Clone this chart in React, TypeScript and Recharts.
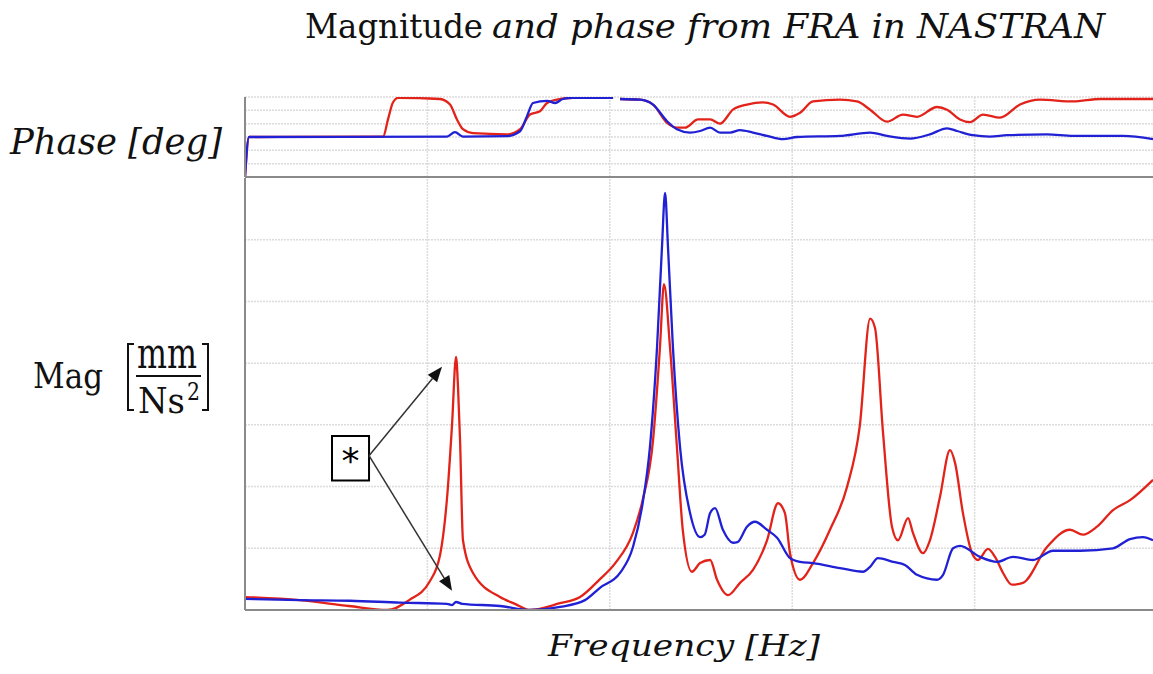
import React from 'react';
import { LineChart, Line, XAxis, YAxis, ReferenceArea, ReferenceLine } from 'recharts';

// ---- Magnitude (mm / N s^2) ----
const redMagFreq = [0, 0.3, 0.57, 0.78, 0.9, 1.01, 1.07, 1.11, 1.135, 1.157, 1.168, 1.179, 1.195, 1.25, 1.398, 1.48, 1.5625, 1.727, 1.837, 1.946, 2.03, 2.127, 2.18, 2.237, 2.275, 2.297, 2.33, 2.368, 2.4, 2.45, 2.495, 2.55, 2.588, 2.648, 2.714, 2.785, 2.862, 2.922, 2.96, 2.988, 3.043, 3.114, 3.207, 3.3, 3.37, 3.427, 3.454, 3.498, 3.547, 3.58, 3.635, 3.662, 3.717, 3.755, 3.81, 3.865, 3.893, 3.936, 3.986, 4.019, 4.073, 4.112, 4.156, 4.205, 4.265, 4.397, 4.523, 4.594, 4.671, 4.759, 4.852, 4.978];
const redMagVal = [0.21, 0.16, 0.065, 0.0, 0.16, 0.45, 0.9, 1.9, 3.0, 4.1, 3.6, 2.75, 1.13, 0.6, 0.21, 0.1, 0.0, 0.11, 0.21, 0.5, 0.76, 1.25, 1.78, 2.75, 4.26, 5.28, 4.26, 2.64, 1.3, 0.62, 0.76, 0.81, 0.49, 0.24, 0.44, 0.65, 1.13, 1.73, 1.57, 0.92, 0.49, 0.76, 1.3, 1.99, 2.97, 4.72, 4.57, 2.87, 1.35, 1.13, 1.49, 1.25, 0.92, 1.13, 1.83, 2.59, 2.38, 1.57, 0.92, 0.81, 0.99, 0.86, 0.6, 0.41, 0.44, 1.02, 1.3, 1.22, 1.35, 1.62, 1.78, 2.11];

const blueMagFreq = [0, 0.3, 0.576, 0.85, 1.107, 1.135, 1.157, 1.19, 1.398, 1.5625, 1.727, 1.864, 1.946, 2.056, 2.127, 2.18, 2.22, 2.259, 2.286, 2.303, 2.319, 2.346, 2.385, 2.44, 2.495, 2.52, 2.55, 2.577, 2.62, 2.675, 2.7, 2.752, 2.796, 2.862, 2.917, 2.988, 3.043, 3.114, 3.262, 3.388, 3.427, 3.47, 3.553, 3.618, 3.684, 3.794, 3.827, 3.882, 3.92, 4.03, 4.123, 4.21, 4.32, 4.43, 4.578, 4.759, 4.852, 4.923, 4.978];
const blueMagVal = [0.18, 0.16, 0.15, 0.12, 0.1, 0.08, 0.13, 0.1, 0.065, 0.0, 0.05, 0.16, 0.36, 0.6, 1.02, 1.73, 2.64, 4.26, 5.88, 6.76, 5.88, 4.26, 2.64, 1.57, 1.18, 1.22, 1.57, 1.65, 1.3, 1.09, 1.1, 1.35, 1.43, 1.3, 1.17, 0.84, 0.78, 0.76, 0.68, 0.62, 0.7, 0.84, 0.78, 0.73, 0.57, 0.49, 0.57, 1.0, 1.04, 0.86, 0.78, 0.86, 0.81, 0.96, 0.96, 1.0, 1.15, 1.18, 1.13];

// ---- Phase (deg) ----
const redPhaseFreq = [0, 0.022, 0.757, 0.784, 0.811, 0.839, 1.069, 1.124, 1.162, 1.195, 1.25, 1.436, 1.508, 1.5625, 1.617, 1.656, 1.71, 1.798, 2.018, 2.03, 2.056, 2.166, 2.237, 2.314, 2.368, 2.412, 2.484, 2.55, 2.604, 2.675, 2.752, 2.84, 2.895, 2.988, 3.043, 3.114, 3.262, 3.355, 3.427, 3.52, 3.607, 3.684, 3.794, 3.849, 3.92, 3.975, 4.046, 4.139, 4.249, 4.359, 4.54, 4.688, 4.978];
const redPhaseVal = [-180, 0, 2, 79, 155, 176, 171, 146, 79, 35, 17, 12, 35, 101, 116, 153, 168, 176, 176, null, 171, 168, 146, 64, 42, 42, 79, 79, 60, 123, 146, 156, 146, 91, 109, 160, 168, 160, 123, 69, 101, 91, 135, 123, 79, 67, 101, 87, 146, 168, 160, 171, 171];

const bluePhaseFreq = [0, 0.022, 1.107, 1.151, 1.195, 1.436, 1.508, 1.546, 1.579, 1.656, 1.7, 1.743, 1.798, 2.018, 2.03, 2.056, 2.166, 2.237, 2.314, 2.368, 2.44, 2.495, 2.55, 2.604, 2.659, 2.714, 2.785, 2.862, 2.95, 3.026, 3.262, 3.427, 3.52, 3.646, 3.755, 3.849, 3.904, 3.99, 4.084, 4.178, 4.397, 4.54, 4.814, 4.978];
const bluePhaseVal = [-180, 0, 2, 22, 2, 4, 26, 94, 153, 163, 153, 171, 176, 176, null, 171, 168, 146, 71, 35, 20, 27, 42, 20, 20, 31, 20, 5, -10, 0, 5, 20, 5, -7, 12, 39, 27, 8, 2, 8, 12, 5, 5, -10];

// ---- axes ----
const freqTicks = [0, 0.5, 1, 1.5, 2, 2.5, 3, 3.5, 4, 4.5];
const freqGrid = [1, 2, 3, 4];
const magTicks = [0, 0.5, 1, 1.5, 2, 2.5, 3, 3.5, 4, 4.5, 5, 5.5, 6, 6.5, 7];
const magGrid = [1, 2, 3, 4, 5, 6];
const phaseTicks = [-180, -150, -120, -90, -60, -30, 0, 30, 60, 90, 120, 150, 180];
const phaseGrid = [-120, -60, 0, 60, 120, 180];

const zip = (xs: number[], ys: (number | null)[]) => xs.map((f, i) => ({ f, v: ys[i] }));
const redMag = zip(redMagFreq, redMagVal);
const blueMag = zip(blueMagFreq, blueMagVal);
const redPhase = zip(redPhaseFreq, redPhaseVal);
const bluePhase = zip(bluePhaseFreq, bluePhaseVal);

const RED = '#e2231a';
const BLUE = '#2020d4';
const AXIS = '#8a8a8a';
const GRID = '#dcdcdc';
const X_MAX = 4.978;

const Arrow = (props: any) => {
  const { x1, y1, x2, y2 } = props;
  const ang = Math.atan2(y2 - y1, x2 - x1);
  const L = 15;
  const W = 6;
  const bx = x2 - L * Math.cos(ang);
  const by = y2 - L * Math.sin(ang);
  const px = W * Math.sin(ang);
  const py = W * Math.cos(ang);
  return (
    <g>
      <line x1={x1} y1={y1} x2={bx} y2={by} stroke="#333" strokeWidth={1.5} />
      <polygon points={`${x2},${y2} ${bx + px},${by - py} ${bx - px},${by + py}`} fill="#111" />
    </g>
  );
};

const GridLine = (props: any) => {
  const { x1, y1, x2, y2 } = props;
  return <line x1={x1} y1={y1} x2={x2} y2={y2} stroke={GRID} strokeWidth={1.5} strokeDasharray="2 1" />;
};

const StarLabel = (props: any) => {
  const vb = props.viewBox || {};
  const cx = vb.x + vb.width / 2;
  const cy = vb.y + vb.height / 2;
  return (
    <text x={cx} y={cy + 15} textAnchor="middle" fontSize={36} fontFamily="DejaVu Sans" fill="#000">
      *
    </text>
  );
};

const serif = 'DejaVu Serif';

export default function App() {
  return (
    <div style={{ position: 'absolute', left: 0, top: 0, width: 1153, height: 674, background: '#fff', overflow: 'hidden' }}>
      {/* Phase panel */}
      <div style={{ position: 'absolute', left: 0, top: 0 }}>
        <LineChart width={1153} height={182} margin={{ top: 97, right: 0, bottom: 2, left: 244 }}>
          {freqGrid.map((g) => (
            <ReferenceLine key={`pv${g}`} x={g} shape={<GridLine />} />
          ))}
          {phaseGrid.map((g) => (
            <ReferenceLine key={`ph${g}`} y={g} shape={<GridLine />} />
          ))}
          <XAxis type="number" dataKey="f" domain={[0, X_MAX]} ticks={freqGrid} allowDataOverflow height={3} tick={false} tickLine={false} axisLine={{ stroke: AXIS, strokeWidth: 2 }} />
          <YAxis type="number" domain={[-180, 180]} ticks={phaseTicks} allowDataOverflow width={1} tick={false} tickSize={3} tickLine={{ stroke: AXIS }} axisLine={{ stroke: AXIS, strokeWidth: 2 }} />
          <Line data={redPhase} dataKey="v" type="monotone" stroke={RED} strokeWidth={2.3} dot={false} isAnimationActive={false} />
          <Line data={bluePhase} dataKey="v" type="monotone" stroke={BLUE} strokeWidth={2.3} dot={false} isAnimationActive={false} />
        </LineChart>
      </div>

      {/* Magnitude panel */}
      <div style={{ position: 'absolute', left: 0, top: 0 }}>
        <LineChart width={1153} height={674} margin={{ top: 178, right: 0, bottom: 54, left: 244 }}>
          {freqGrid.map((g) => (
            <ReferenceLine key={`mv${g}`} x={g} shape={<GridLine />} />
          ))}
          {magGrid.map((g) => (
            <ReferenceLine key={`mh${g}`} y={g} shape={<GridLine />} />
          ))}
          <XAxis type="number" dataKey="f" domain={[0, X_MAX]} ticks={freqTicks} allowDataOverflow height={10} tick={false} tickSize={3} tickLine={{ stroke: AXIS }} axisLine={{ stroke: AXIS, strokeWidth: 2 }} />
          <YAxis type="number" domain={[0, 7]} ticks={magTicks} allowDataOverflow width={1} tick={false} tickSize={3} tickLine={{ stroke: AXIS }} axisLine={{ stroke: AXIS, strokeWidth: 2 }} />
          <Line data={redMag} dataKey="v" type="monotone" stroke={RED} strokeWidth={2.3} dot={false} isAnimationActive={false} />
          <Line data={blueMag} dataKey="v" type="monotone" stroke={BLUE} strokeWidth={2.3} dot={false} isAnimationActive={false} />
          <ReferenceArea x1={0.477} x2={0.68} y1={2.1} y2={2.82} fill="#fff" fillOpacity={1} stroke="#000" strokeWidth={2} label={<StarLabel />} />
          <ReferenceLine segment={[{ x: 0.68, y: 2.5 }, { x: 1.08, y: 3.94 }]} shape={<Arrow />} />
          <ReferenceLine segment={[{ x: 0.68, y: 2.5 }, { x: 1.135, y: 0.31 }]} shape={<Arrow />} />
        </LineChart>
      </div>

      {/* Text overlay */}
      <svg width={1153} height={674} style={{ position: 'absolute', left: 0, top: 0, pointerEvents: 'none' }}>
        <text x={305} y={38} fontFamily={serif} fontSize={34} fill="#111" textLength={178} lengthAdjust="spacingAndGlyphs">Magnitude</text>
        <text x={492} y={38} fontFamily={serif} fontStyle="italic" fontSize={34} fill="#111" textLength={613} lengthAdjust="spacingAndGlyphs">and phase from FRA in NASTRAN</text>

        <text x={10} y={154} fontFamily={serif} fontStyle="italic" fontSize={35} fill="#111" textLength={212} lengthAdjust="spacingAndGlyphs">Phase [deg]</text>

        <text x={33} y={388} fontFamily={serif} fontSize={36} fill="#111" textLength={70} lengthAdjust="spacingAndGlyphs">Mag</text>
        <path d="M134,344 L128,344 L128,410 L134,410" fill="none" stroke="#111" strokeWidth={2} />
        <path d="M202,344 L208,344 L208,410 L202,410" fill="none" stroke="#111" strokeWidth={2} />
        <text x={137} y={368} fontFamily={serif} fontSize={42} fill="#111" textLength={60} lengthAdjust="spacingAndGlyphs">mm</text>
        <line x1={136} y1={376} x2={201} y2={376} stroke="#111" strokeWidth={2} />
        <text x={138} y={413} fontFamily={serif} fontSize={36} fill="#111" textLength={47} lengthAdjust="spacingAndGlyphs">Ns</text>
        <text x={187} y={400} fontFamily={serif} fontSize={24} fill="#111" textLength={13} lengthAdjust="spacingAndGlyphs">2</text>

        <text x={548} y={656} fontFamily={serif} fontStyle="italic" fontSize={30} fill="#111" textLength={272} lengthAdjust="spacingAndGlyphs">Frequency [Hz]</text>
      </svg>
    </div>
  );
}
